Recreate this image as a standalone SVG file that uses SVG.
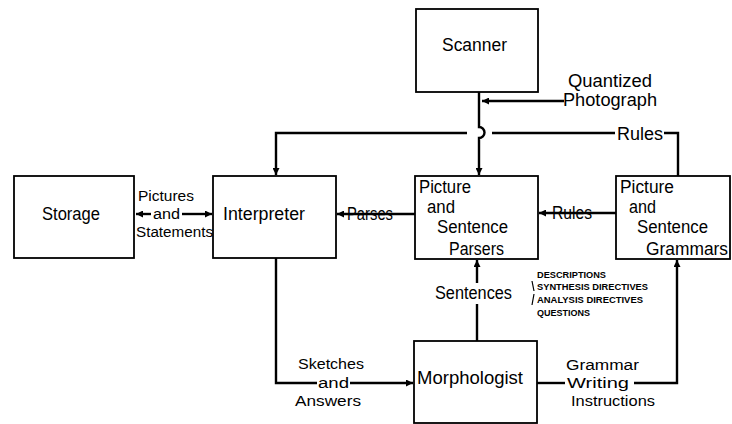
<svg xmlns="http://www.w3.org/2000/svg" width="732" height="424" viewBox="0 0 732 424">
<defs>
<marker id="ah" viewBox="0 0 10 10" refX="10" refY="5" markerWidth="9" markerHeight="7" markerUnits="userSpaceOnUse" orient="auto-start-reverse">
<path d="M0,0 L10,5 L0,10 z" fill="#000"/>
</marker>
<style>
.box{fill:#fff;stroke:#000;stroke-width:1.8}
.t{font-family:"Liberation Sans",Arial,sans-serif;font-size:17.5px;fill:#000}
.l{font-family:"Liberation Sans",Arial,sans-serif;font-size:15.5px;fill:#000}
.s{font-family:"Liberation Sans",Arial,sans-serif;font-size:9px;font-weight:bold;fill:#000}
.c{fill:none;stroke:#000;stroke-width:2.4}
.a{marker-end:url(#ah)}
.thin{fill:none;stroke:#000;stroke-width:1.2}
</style>
</defs>
<rect width="732" height="424" fill="#fff"/>
<g id="connectors">
<path class="c a" d="M479,92 V127 A5.5,5.5 0 0 1 479,138 V175"/>
<path class="c a" d="M564,101 H482"/>
<path class="c" d="M678,176 V133 H664"/>
<path class="c" d="M615,133 H492"/>
<path class="c a" d="M467,133 H276 V175"/>
<path class="c a" d="M151,214 H136"/>
<path class="c a" d="M182,214 H212"/>
<path class="c a" d="M415,214 H337"/>
<path class="c a" d="M616,213 H539"/>
<path class="c a" d="M477,283 V260"/>
<path class="c" d="M477,341 V304"/>
<path class="c" d="M276,258 V383 H317"/>
<path class="c a" d="M350,383 H413"/>
<path class="c" d="M537,383 H565"/>
<path class="c a" d="M634,383 H677 V260"/>
<path class="thin" d="M532,281 L534,291 M534,294 L532,305"/>
</g>
<g id="scanner">
<rect class="box" x="416" y="9" width="122" height="83"/>
<text class="t" x="442" y="51" textLength="65" lengthAdjust="spacingAndGlyphs">Scanner</text>
</g>
<g id="storage">
<rect class="box" x="14" y="176" width="120" height="82"/>
<text class="t" x="42" y="220" textLength="58" lengthAdjust="spacingAndGlyphs">Storage</text>
</g>
<g id="interpreter">
<rect class="box" x="213" y="176" width="123" height="82"/>
<text class="t" x="223" y="220" textLength="82" lengthAdjust="spacingAndGlyphs">Interpreter</text>
</g>
<g id="parsers">
<rect class="box" x="415" y="176" width="123" height="83"/>
<text class="t" x="419" y="193" textLength="52" lengthAdjust="spacingAndGlyphs">Picture</text>
<text class="t" x="427" y="213" textLength="28" lengthAdjust="spacingAndGlyphs">and</text>
<text class="t" x="437" y="233" textLength="71" lengthAdjust="spacingAndGlyphs">Sentence</text>
<text class="t" x="449" y="255" textLength="55" lengthAdjust="spacingAndGlyphs">Parsers</text>
</g>
<g id="grammars">
<rect class="box" x="616" y="176" width="114" height="83"/>
<text class="t" x="620" y="193" textLength="54" lengthAdjust="spacingAndGlyphs">Picture</text>
<text class="t" x="629" y="213" textLength="27" lengthAdjust="spacingAndGlyphs">and</text>
<text class="t" x="637" y="233" textLength="71" lengthAdjust="spacingAndGlyphs">Sentence</text>
<text class="t" x="646" y="255" textLength="82" lengthAdjust="spacingAndGlyphs">Grammars</text>
</g>
<g id="morphologist">
<rect class="box" x="414" y="341" width="123" height="82"/>
<text class="t" x="417" y="384" textLength="106" lengthAdjust="spacingAndGlyphs">Morphologist</text>
</g>
<g id="labels">
<text class="t" x="568" y="87" textLength="84" lengthAdjust="spacingAndGlyphs">Quantized</text>
<text class="t" x="563" y="106" textLength="94" lengthAdjust="spacingAndGlyphs">Photograph</text>
<text class="t" x="617" y="140" textLength="46" lengthAdjust="spacingAndGlyphs">Rules</text>
<text class="l" x="138" y="201" textLength="56" lengthAdjust="spacingAndGlyphs">Pictures</text>
<text class="l" x="153" y="219" textLength="27" lengthAdjust="spacingAndGlyphs">and</text>
<text class="l" x="136" y="237" textLength="77" lengthAdjust="spacingAndGlyphs">Statements</text>
<text class="t" x="347" y="220" textLength="46" lengthAdjust="spacingAndGlyphs">Parses</text>
<text class="t" x="552" y="219" textLength="40" lengthAdjust="spacingAndGlyphs">Rules</text>
<text class="t" x="435" y="299" textLength="77" lengthAdjust="spacingAndGlyphs">Sentences</text>
<text class="s" x="537" y="278" textLength="69" lengthAdjust="spacingAndGlyphs">DESCRIPTIONS</text>
<text class="s" x="537" y="290" textLength="111" lengthAdjust="spacingAndGlyphs">SYNTHESIS DIRECTIVES</text>
<text class="s" x="537" y="303" textLength="106" lengthAdjust="spacingAndGlyphs">ANALYSIS DIRECTIVES</text>
<text class="s" x="537" y="316" textLength="53" lengthAdjust="spacingAndGlyphs">QUESTIONS</text>
<text class="l" x="298" y="369" textLength="66" lengthAdjust="spacingAndGlyphs">Sketches</text>
<text class="l" x="318" y="388" textLength="31" lengthAdjust="spacingAndGlyphs">and</text>
<text class="l" x="295" y="406" textLength="66" lengthAdjust="spacingAndGlyphs">Answers</text>
<text class="l" x="566" y="370" textLength="73" lengthAdjust="spacingAndGlyphs">Grammar</text>
<text class="l" x="567" y="388" textLength="62" lengthAdjust="spacingAndGlyphs">Writing</text>
<text class="l" x="571" y="406" textLength="84" lengthAdjust="spacingAndGlyphs">Instructions</text>
</g>
</svg>
